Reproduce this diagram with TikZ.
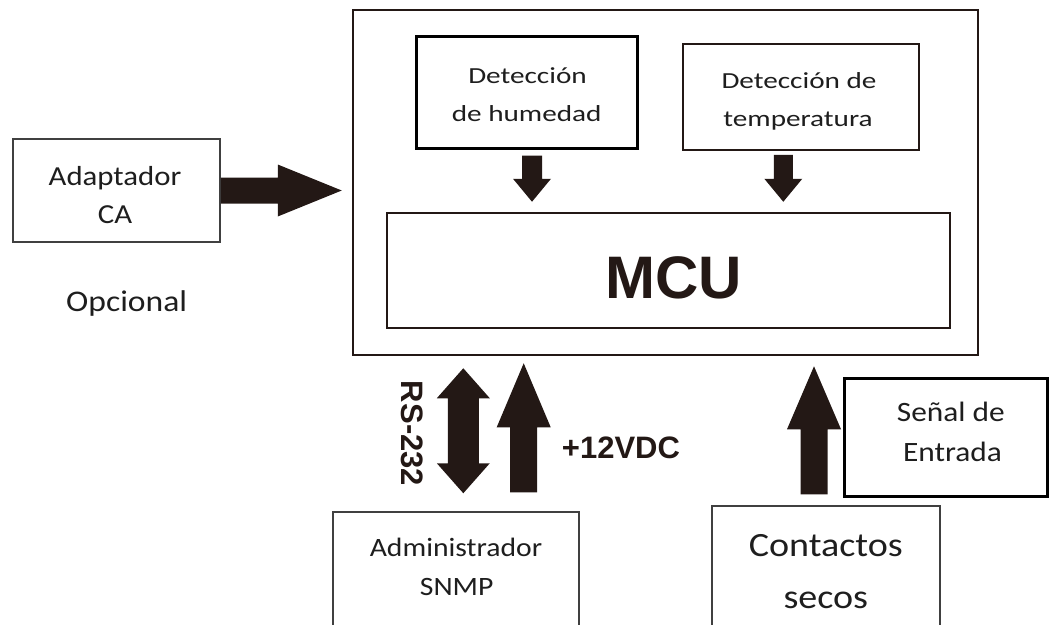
\documentclass[tikz,border=0pt]{standalone}
\usepackage{fontspec}
\usetikzlibrary{calc}
\newfontfamily\txtfont{Carlito}[FakeStretch=1.12]
\newfontfamily\detfont{Carlito}[FakeStretch=1.27]
\newfontfamily\heavyfont{Liberation Sans}
\definecolor{ink}{HTML}{231815}
\definecolor{txtgray}{HTML}{1E1E1E}
\tikzset{
  box/.style={draw=ink, line width=1.5pt, inner sep=0pt, fill=white},
  thickbox/.style={box, draw=black, line width=3pt},
  framebox/.style={box, line width=2.5pt},
  lbl/.style={anchor=base, inner sep=0pt, text=txtgray},
  arrowfill/.style={fill=ink},
}
% solid block arrow: tail, tip, shaft half width, head half width, head length
\newcommand\solidarrow[5]{%
  \coordinate (sa-h) at ($(#2)!#5!(#1)$);
  \fill[arrowfill] ($(#1)!#3!90:(#2)$) -- ($(sa-h)!#3!90:(#2)$) -- ($(sa-h)!#4!90:(#2)$)
    -- (#2) -- ($(sa-h)!#4!-90:(#2)$) -- ($(sa-h)!#3!-90:(#2)$) -- ($(#1)!#3!-90:(#2)$) -- cycle;}
% solid block arrow with a head at both ends
\newcommand\solidbiarrow[5]{%
  \coordinate (sb-a) at ($(#1)!#5!(#2)$);
  \coordinate (sb-b) at ($(#2)!#5!(#1)$);
  \fill[arrowfill] (#1) -- ($(sb-a)!#4!90:(#2)$) -- ($(sb-a)!#3!90:(#2)$) -- ($(sb-b)!#3!90:(#2)$)
    -- ($(sb-b)!#4!90:(#2)$) -- (#2) -- ($(sb-b)!#4!-90:(#2)$) -- ($(sb-b)!#3!-90:(#2)$)
    -- ($(sb-a)!#3!-90:(#2)$) -- ($(sb-a)!#4!-90:(#2)$) -- cycle;}
\begin{document}
\begin{tikzpicture}[x=1pt, y=-1pt]
\useasboundingbox (0,0) rectangle (1049,624);
\clip (0,0) rectangle (1049,624);

% main unit and its inner blocks
\node[framebox, minimum width=625pt, minimum height=345pt] (outer) at (665.5,182.5) {};
\node[thickbox, minimum width=221pt, minimum height=112pt] (hum) at (526.5,92) {};
\node[box, minimum width=236pt, minimum height=106pt] (temp) at (801,97) {};
\node[framebox, minimum width=563pt, minimum height=115pt] (mcu) at (668.5,270.5) {};

% external blocks
\node[box, draw=black!75, minimum width=207pt, minimum height=103pt] (adapt) at (116.5,190.5) {};
\node[box, draw=black!75, minimum width=246pt, minimum height=148pt] (admin) at (456,586) {};
\node[box, draw=black!75, minimum width=228pt, minimum height=154pt] (contact) at (826,583) {};
\node[thickbox, minimum width=203pt, minimum height=118pt] (senal) at (945.5,437) {};

% texts
\node[lbl, font=\detfont\fontsize{23}{28}\selectfont] (hum-l1) at (527.5,83.3) {Detección};
\node[lbl, font=\detfont\fontsize{23}{28}\selectfont] (hum-l2) at (526.7,121.7) {de humedad};
\node[lbl, font=\detfont\fontsize{23}{28}\selectfont] (temp-l1) at (799,88.3) {Detección de};
\node[lbl, font=\detfont\fontsize{23}{28}\selectfont] (temp-l2) at (798,126.7) {temperatura};
\node[lbl, text=ink, font=\heavyfont\bfseries\fontsize{60}{70}\selectfont] (mcu-l) at (673.5,298.3) {MCU};
\node[lbl, font=\txtfont\fontsize{27.5}{32}\selectfont] (adapt-l1) at (115,185) {Adaptador};
\node[lbl, font=\txtfont\fontsize{27.5}{32}\selectfont] (adapt-l2) at (115,223.3) {CA};
\node[lbl, font=\txtfont\fontsize{30}{36}\selectfont] (opc) at (126.7,311.7) {Opcional};
\node[lbl, font=\txtfont\fontsize{26.5}{32}\selectfont] (admin-l1) at (456,556.7) {Administrador};
\node[lbl, font=\txtfont\fontsize{26.5}{32}\selectfont] (admin-l2) at (456.7,595) {SNMP};
\node[lbl, font=\txtfont\fontsize{34}{40}\selectfont] (contact-l1) at (825.8,556.7) {Contactos};
\node[lbl, font=\txtfont\fontsize{34}{40}\selectfont] (contact-l2) at (825.8,608.3) {secos};
\node[lbl, font=\txtfont\fontsize{28}{34}\selectfont] (senal-l1) at (950.8,421.7) {Señal de};
\node[lbl, font=\txtfont\fontsize{28}{34}\selectfont] (senal-l2) at (952.5,461.7) {Entrada};
\node[lbl, text=ink, font=\heavyfont\bfseries\fontsize{31}{36}\selectfont] (v12) at (621,458) {+12VDC};
\node[inner sep=0pt, text=ink, rotate=-90, font=\heavyfont\bfseries\fontsize{31}{36}\selectfont] (rs) at (412.5,433.5) {RS-232};

% connector end points
\coordinate (ad-s) at (adapt.east);
\coordinate (ad-t) at ($(adapt.east -| outer.west)+(-10,0)$);
\coordinate (hm-s) at ($(hum.south)+(5.5,6)$);
\coordinate (hm-t) at ($(hm-s |- mcu.north)+(0,-10)$);
\coordinate (tp-s) at ($(temp.south)+(-17.7,4)$);
\coordinate (tp-t) at ($(tp-s |- mcu.north)+(0,-10)$);
\coordinate (rs-a) at ($(outer.south)+(-202.2,12)$);
\coordinate (rs-b) at ($(rs-a |- admin.north)+(0,-18)$);
\coordinate (pw-t) at ($(outer.south)+(-141.8,7)$);
\coordinate (pw-s) at ($(pw-t |- admin.north)+(0,-19)$);
\coordinate (ct-s) at ($(contact.north)+(-12,-11)$);
\coordinate (ct-t) at ($(ct-s |- outer.south)+(0,10)$);

% block arrows
\solidarrow{ad-s}{ad-t}{13pt}{26pt}{64pt}
\solidarrow{hm-s}{hm-t}{10pt}{19pt}{23pt}
\solidarrow{tp-s}{tp-t}{9.5pt}{19pt}{23pt}
\solidbiarrow{rs-a}{rs-b}{15.5pt}{26.5pt}{30pt}
\solidarrow{pw-s}{pw-t}{13.5pt}{27pt}{64pt}
\solidarrow{ct-s}{ct-t}{13.5pt}{27pt}{63pt}
\end{tikzpicture}
\end{document}
